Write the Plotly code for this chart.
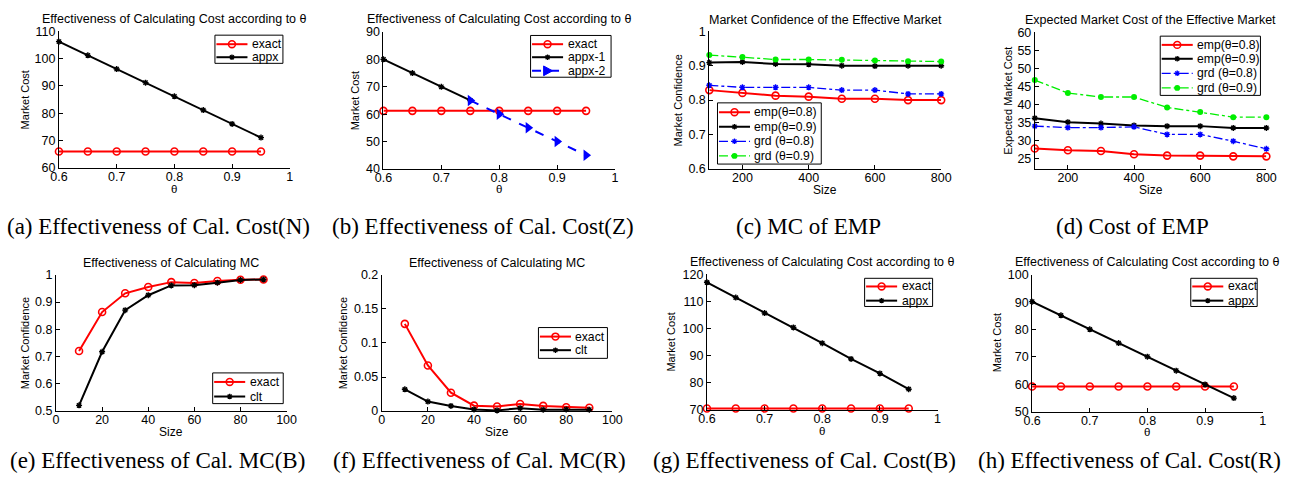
import plotly.graph_objects as go

# ---------------- data ----------------
theta = [0.6, 0.65, 0.7, 0.75, 0.8, 0.85, 0.9, 0.95]
size_emp = [100, 200, 300, 400, 500, 600, 700, 800]
size_mc = [10, 20, 30, 40, 50, 60, 70, 80, 90]

a_exact = [66, 66, 66, 66, 66, 66, 66, 66]
a_appx = [106.2, 101.2, 96.2, 91.2, 86.2, 81.2, 76.1, 71.1]

b_exact = [61.2, 61.2, 61.2, 61.2, 61.2, 61.2, 61.2, 61.2]
b_theta1 = [0.6, 0.65, 0.7, 0.75]
b_appx1 = [80, 75, 70, 65]
b_theta2 = [0.75, 0.8, 0.85, 0.9, 0.95]
b_appx2 = [65, 60, 55, 50, 45]

c_emp08 = [0.829, 0.821, 0.813, 0.810, 0.804, 0.804, 0.800, 0.800]
c_emp09 = [0.909, 0.911, 0.905, 0.904, 0.900, 0.899, 0.900, 0.900]
c_grd08 = [0.843, 0.837, 0.837, 0.837, 0.829, 0.829, 0.818, 0.818]
c_grd09 = [0.931, 0.925, 0.918, 0.918, 0.917, 0.915, 0.913, 0.912]

d_emp08 = [27.7, 27.2, 27.0, 26.1, 25.7, 25.7, 25.5, 25.5]
d_emp09 = [36.1, 35.0, 34.6, 34.1, 33.9, 33.9, 33.4, 33.4]
d_grd08 = [33.9, 33.5, 33.5, 33.7, 31.6, 31.6, 29.7, 27.6]
d_grd09 = [46.7, 43.1, 42.0, 42.0, 39.1, 37.8, 36.4, 36.4]

e_exact = [0.720, 0.863, 0.932, 0.955, 0.973, 0.970, 0.977, 0.982, 0.983]
e_clt = [0.520, 0.717, 0.870, 0.925, 0.961, 0.962, 0.971, 0.981, 0.983]

f_exact = [0.128, 0.067, 0.027, 0.008, 0.0067, 0.0105, 0.0076, 0.0057, 0.0048]
f_clt = [0.032, 0.014, 0.0076, 0.0024, 0.001, 0.0043, 0.002, 0.0024, 0.002]

g_exact = [70.6, 70.6, 70.6, 70.6, 70.6, 70.6, 70.6, 70.6]
g_appx = [117.0, 111.4, 105.7, 100.4, 94.6, 88.8, 83.5, 77.7]

h_exact = [59.2, 59.2, 59.2, 59.2, 59.2, 59.2, 59.2, 59.2]
h_appx = [90.2, 85.2, 80.1, 75.1, 70.1, 65.0, 60.0, 55.0]

panel_titles = [
    "Effectiveness of Calculating Cost according to θ",
    "Effectiveness of Calculating Cost according to θ",
    "Market Confidence of the Effective Market",
    "Expected Market Cost of the Effective Market",
    "Effectiveness of Calculating MC",
    "Effectiveness of Calculating MC",
    "Effectiveness of Calculating Cost according to θ",
    "Effectiveness of Calculating Cost according to θ",
]
captions = [
    "(a) Effectiveness of Cal. Cost(N)",
    "(b) Effectiveness of Cal. Cost(Z)",
    "(c) MC of EMP",
    "(d) Cost of EMP",
    "(e) Effectiveness of Cal. MC(B)",
    "(f) Effectiveness of Cal. MC(R)",
    "(g) Effectiveness of Cal. Cost(B)",
    "(h) Effectiveness of Cal. Cost(R)",
]
x_titles = ["θ", "θ", "Size", "Size", "Size", "Size", "θ", "θ"]
y_titles = ["Market Cost", "Market Cost", "Market Confidence", "Expected Market Cost",
            "Market Confidence", "Market Confidence", "Market Cost", "Market Cost"]

# ---------------- layout geometry (pixels) ----------------
W, H = 1300, 489
boxes = [  # left, right, top, bottom
    (50.7, 285, 25, 165.7),
    (380, 615, 25.7, 166.7),
    (710.7, 946, 25, 166.7),
    (1041, 1276, 26, 166.7),
    (47.7, 281.7, 275.7, 415.7),
    (378.3, 612.3, 275.7, 416),
    (708.3, 942.3, 275, 415),
    (1038.3, 1272.3, 275.7, 416.7),
]
x_ranges = [[0.6, 1], [0.6, 1], [100, 800], [100, 800], [0, 100], [0, 100], [0.6, 1], [0.6, 1]]
y_ranges = [[60, 110], [40, 90], [0.6, 1], [22, 60], [0.5, 1], [0, 0.2], [70, 120], [50, 100]]
x_ticks = [[0.6, 0.7, 0.8, 0.9, 1], [0.6, 0.7, 0.8, 0.9, 1], [200, 400, 600, 800], [200, 400, 600, 800],
           [0, 20, 40, 60, 80, 100], [0, 20, 40, 60, 80, 100], [0.6, 0.7, 0.8, 0.9, 1], [0.6, 0.7, 0.8, 0.9, 1]]
y_ticks = [[60, 70, 80, 90, 100, 110], [40, 50, 60, 70, 80, 90], [0.6, 0.7, 0.8, 0.9, 1],
           [25, 30, 35, 40, 45, 50, 55, 60], [0.5, 0.6, 0.7, 0.8, 0.9, 1], [0, 0.05, 0.1, 0.15, 0.2],
           [70, 80, 90, 100, 110, 120], [50, 60, 70, 80, 90, 100]]
title_y = [12.7, 12.7, 13.5, 13.5, 263.3, 263.3, 262.7, 262.7]
ytitle_off = [34.7, 28, 31.4, 28, 32, 39, 36, 35.6]       # px left of the y axis
xtitle_y = [187.5, 187.5, 188, 188, 438, 438, 436.5, 437.5]
caption_x = [152, 481, 811, 1140, 151, 477, 807, 1137]
caption_y = [226, 226, 226, 226, 467, 467, 467, 467]
legend_boxes = [  # left, top, right, bottom
    (209, 29, 278, 58),
    (529.3, 29.3, 611, 72.3),
    (719, 98.7, 824.3, 161.7),
    (1168.3, 30, 1270, 91),
    (206.7, 376.7, 278.3, 408.3),
    (537.3, 330, 607.3, 361.7),
    (868.3, 279.3, 937.3, 308.3),
    (1199.3, 279.3, 1266.7, 308.3),
]
legend_rows = [  # vertical centre of each legend entry, px
    [38.3, 51.7],
    [38.3, 51.7, 65.7],
    [108.3, 123.3, 138.3, 153.3],
    [39, 53.3, 68.3, 83.3],
    [386, 401],
    [339.3, 353.3],
    [287.7, 302.3],
    [287.7, 302.3],
]

RED, BLACK, BLUE, GREEN = "#ff0000", "#000000", "#0000ff", "#00ee00"
sty_exact = dict(line=dict(color=RED, width=2), kind="circle_open",
                 marker=dict(symbol="circle-open", size=7, color=RED, line=dict(width=1.6, color=RED)))
sty_black = dict(line=dict(color=BLACK, width=2), kind="star",
                 marker=dict(symbol="asterisk-open", size=5, color=BLACK, line=dict(width=1.4, color=BLACK)))
sty_blue_dd = dict(line=dict(color=BLUE, width=1.3, dash="dashdot"), kind="star",
                   marker=dict(symbol="asterisk-open", size=5, color=BLUE, line=dict(width=1.4, color=BLUE)))
sty_green_dd = dict(line=dict(color=GREEN, width=1.3, dash="dashdot"), kind="dot",
                    marker=dict(symbol="circle", size=6, color=GREEN))
sty_blue_tri = dict(line=dict(color=BLUE, width=2, dash="dash"), kind="tri",
                    marker=dict(symbol="triangle-right", size=10, color=BLUE))

series = [
    [(theta, a_exact, "exact", sty_exact), (theta, a_appx, "appx", sty_black)],
    [(theta, b_exact, "exact", sty_exact), (b_theta1, b_appx1, "appx-1", sty_black),
     (b_theta2, b_appx2, "appx-2", sty_blue_tri)],
    [(size_emp, c_emp08, "emp(θ=0.8)", sty_exact), (size_emp, c_emp09, "emp(θ=0.9)", sty_black),
     (size_emp, c_grd08, "grd (θ=0.8)", sty_blue_dd), (size_emp, c_grd09, "grd (θ=0.9)", sty_green_dd)],
    [(size_emp, d_emp08, "emp(θ=0.8)", sty_exact), (size_emp, d_emp09, "emp(θ=0.9)", sty_black),
     (size_emp, d_grd08, "grd (θ=0.8)", sty_blue_dd), (size_emp, d_grd09, "grd (θ=0.9)", sty_green_dd)],
    [(size_mc, e_exact, "exact", sty_exact), (size_mc, e_clt, "clt", sty_black)],
    [(size_mc, f_exact, "exact", sty_exact), (size_mc, f_clt, "clt", sty_black)],
    [(theta, g_exact, "exact", sty_exact), (theta, g_appx, "appx", sty_black)],
    [(theta, h_exact, "exact", sty_exact), (theta, h_appx, "appx", sty_black)],
]

FONT = "Liberation Sans, Arial, sans-serif"
SERIF = "Liberation Serif, Times New Roman, serif"


def px(x):
    return x / W


def py(y):
    return 1 - y / H


def pt(x, y):
    return "%.6f,%.6f" % (px(x), py(y))


fig = go.Figure()
annotations = []
shapes = []
layout = dict(width=W, height=H, margin=dict(l=0, r=0, t=0, b=0),
              paper_bgcolor="white", plot_bgcolor="white", showlegend=False,
              font=dict(family=FONT, size=12, color="black"))


def text(t, x, y, size, family=FONT, xanchor="center", angle=0, pad=1):
    annotations.append(dict(text=t, x=px(x), y=py(y), xref="paper", yref="paper",
                            xanchor=xanchor, yanchor="middle", showarrow=False, textangle=angle,
                            borderpad=pad, font=dict(family=family, size=size, color="black")))


def legend_marker(kind, color, cx, cy):
    if kind == "circle_open":
        r = 3.5
        shapes.append(dict(type="circle", xref="paper", yref="paper", layer="above",
                           x0=px(cx - r), x1=px(cx + r), y0=py(cy + r), y1=py(cy - r),
                           line=dict(color=color, width=1.6), fillcolor="rgba(0,0,0,0)"))
    elif kind == "dot":
        r = 3
        shapes.append(dict(type="circle", xref="paper", yref="paper", layer="above",
                           x0=px(cx - r), x1=px(cx + r), y0=py(cy + r), y1=py(cy - r),
                           line=dict(color=color, width=0), fillcolor=color))
    elif kind == "star":
        s = 2.8
        path = ("M%s L%s M%s L%s M%s L%s M%s L%s" %
                (pt(cx - s, cy), pt(cx + s, cy), pt(cx, cy - s), pt(cx, cy + s),
                 pt(cx - 2, cy - 2), pt(cx + 2, cy + 2), pt(cx - 2, cy + 2), pt(cx + 2, cy - 2)))
        shapes.append(dict(type="path", xref="paper", yref="paper", layer="above", path=path,
                           line=dict(color=color, width=1.3)))
    elif kind == "tri":
        path = "M%s L%s L%s Z" % (pt(cx - 4, cy - 5), pt(cx + 5, cy), pt(cx - 4, cy + 5))
        shapes.append(dict(type="path", xref="paper", yref="paper", layer="above", path=path,
                           line=dict(color=color, width=1), fillcolor=color))


for i in range(8):
    n = i + 1
    sfx = "" if n == 1 else str(n)
    for xs, ys, name, st in series[i]:
        fig.add_trace(go.Scatter(x=xs, y=ys, name=name, mode="lines+markers",
                                 line=st["line"], marker=st["marker"], cliponaxis=False,
                                 xaxis="x" + sfx, yaxis="y" + sfx, showlegend=False))
    L, R, T, B = boxes[i]
    common = dict(showline=True, linecolor="black", linewidth=1, ticks="inside", ticklen=4,
                  tickcolor="black", showgrid=False, zeroline=False, mirror=False,
                  tickfont=dict(family=FONT, size=12.5, color="black"))
    layout["xaxis" + sfx] = dict(common, domain=[px(L), px(R)], range=x_ranges[i],
                                 tickvals=x_ticks[i], anchor="y" + sfx, ticklabelstandoff=-3)
    layout["yaxis" + sfx] = dict(common, domain=[py(B), py(T)], range=y_ranges[i],
                                 tickvals=y_ticks[i], anchor="x" + sfx)
    # panel title, axis titles, caption
    text(panel_titles[i], (L + R) / 2, title_y[i], 12.5)
    text(x_titles[i], (L + R) / 2, xtitle_y[i], 12 if x_titles[i] == "Size" else 11.5)
    text(y_titles[i], L - ytitle_off[i], (T + B) / 2, 11, angle=-90)
    text(captions[i], caption_x[i], caption_y[i], 23, family=SERIF)
    # legend box
    lL, lT, lR, lB = legend_boxes[i]
    shapes.append(dict(type="rect", xref="paper", yref="paper", layer="above",
                       x0=px(lL), x1=px(lR), y0=py(lB), y1=py(lT),
                       line=dict(color="black", width=1), fillcolor="white"))
    for k, (xs, ys, name, st) in enumerate(series[i]):
        cy = legend_rows[i][k]
        x0, x1 = lL + 1.5, lL + 33
        ln = dict(color=st["line"]["color"], width=st["line"]["width"])
        if "dash" in st["line"]:
            ln["dash"] = st["line"]["dash"]
        shapes.append(dict(type="line", xref="paper", yref="paper", layer="above",
                           x0=px(x0), x1=px(x1), y0=py(cy), y1=py(cy), line=ln))
        legend_marker(st["kind"], st["line"]["color"], (x0 + x1) / 2, cy)
        text(name, lL + 36.5, cy, 12.2, xanchor="left", pad=0)

layout["annotations"] = annotations
layout["shapes"] = shapes
fig.update_layout(**layout)
fig.write_html("out.html", config={"displayModeBar": False},
               post_script="document.body.style.margin='0px';document.body.style.overflow='hidden';")
